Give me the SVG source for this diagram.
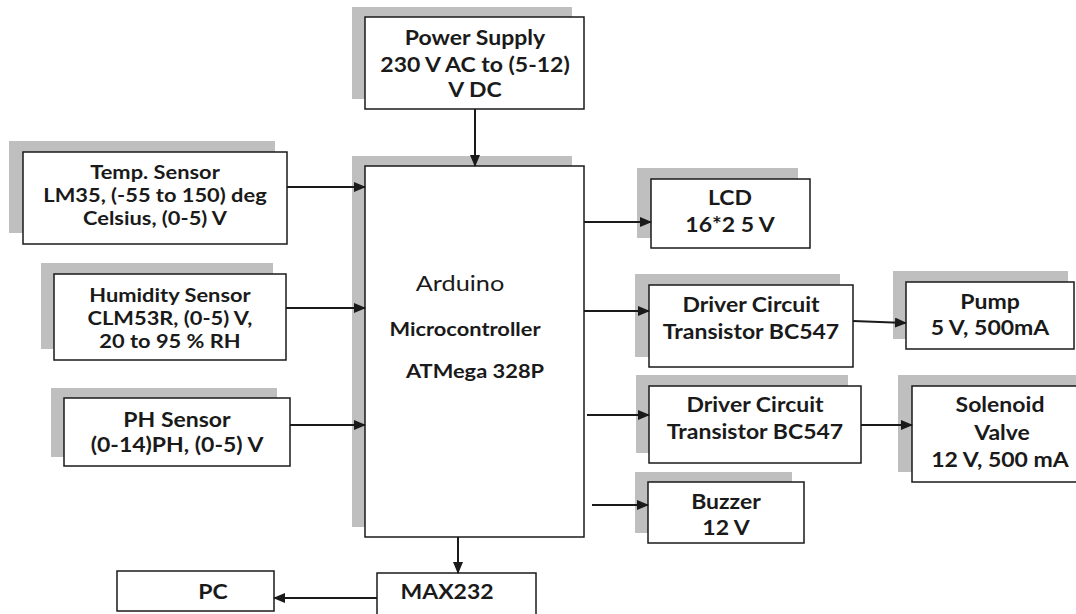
<svg xmlns="http://www.w3.org/2000/svg" width="1076" height="614" viewBox="0 0 1076 614">
<defs>
<marker id="ah" markerWidth="12" markerHeight="10" refX="11" refY="5" orient="auto" markerUnits="userSpaceOnUse">
<path d="M0,0 L12,5 L0,10 z" fill="#1a1a1a"/>
</marker>
<style>
.sh{fill:#bfbfbf;stroke:none}
.bx{fill:#fff;stroke:#1a1a1a;stroke-width:1.5}
.t{font-family:Lato,"Open Sans","Liberation Sans",sans-serif;font-weight:bold;font-size:20px;fill:#1a1a1a;text-anchor:middle}
.s{font-size:19px}
.r{font-family:Lato,"Open Sans","Liberation Sans",sans-serif;font-size:22px;fill:#1a1a1a;text-anchor:middle}
.c{stroke:#1a1a1a;stroke-width:2;fill:none;marker-end:url(#ah)}
</style>
</defs>
<rect width="1076" height="614" fill="#fff"/>

<g id="power">
<rect class="sh" x="352" y="7" width="220" height="92"/>
<rect class="bx" x="365" y="17" width="219" height="92"/>
<text class="t" transform="translate(475 0) scale(1.15 1)" x="0" y="45">Power Supply</text>
<text class="t" transform="translate(475 0) scale(1.15 1)" x="0" y="72">230 V AC to (5-12)</text>
<text class="t" transform="translate(475 0) scale(1.15 1)" x="0" y="97">V DC</text>
</g>

<g id="arduino">
<rect class="sh" x="352" y="156" width="220" height="371"/>
<rect class="bx" x="365" y="166" width="219" height="371"/>
<text class="r" transform="translate(460 0) scale(1.15 1)" x="0" y="291">Arduino</text>
<text class="t s" transform="translate(465 0) scale(1.15 1)" x="0" y="336">Microcontroller</text>
<text class="t s" transform="translate(475 0) scale(1.15 1)" x="0" y="378">ATMega 328P</text>
</g>

<g id="temp">
<rect class="sh" x="9" y="141" width="266" height="92"/>
<rect class="bx" x="23" y="152" width="264" height="92"/>
<text class="t s" transform="translate(155 0) scale(1.15 1)" x="0" y="179">Temp. Sensor</text>
<text class="t s" transform="translate(155 0) scale(1.15 1)" x="0" y="202">LM35, (-55 to 150) deg</text>
<text class="t s" transform="translate(155 0) scale(1.15 1)" x="0" y="225">Celsius, (0-5) V</text>
</g>

<g id="humidity">
<rect class="sh" x="41" y="263" width="232" height="86"/>
<rect class="bx" x="54" y="274" width="232" height="86"/>
<text class="t s" transform="translate(170 0) scale(1.15 1)" x="0" y="302">Humidity Sensor</text>
<text class="t s" transform="translate(170 0) scale(1.15 1)" x="0" y="325">CLM53R, (0-5) V,</text>
<text class="t s" transform="translate(170 0) scale(1.15 1)" x="0" y="348">20 to 95 % RH</text>
</g>

<g id="ph">
<rect class="sh" x="51" y="388" width="226" height="69"/>
<rect class="bx" x="64" y="398" width="226" height="68"/>
<text class="t" transform="translate(177 0) scale(1.15 1)" x="0" y="427">PH Sensor</text>
<text class="t" transform="translate(177 0) scale(1.15 1)" x="0" y="452">(0-14)PH, (0-5) V</text>
</g>

<g id="lcd">
<rect class="sh" x="637" y="168" width="161" height="70"/>
<rect class="bx" x="651" y="179" width="159" height="69"/>
<text class="t" transform="translate(730 0) scale(1.15 1)" x="0" y="205">LCD</text>
<text class="t" transform="translate(730 0) scale(1.15 1)" x="0" y="232">16*2 5 V</text>
</g>

<g id="driver1">
<rect class="sh" x="635" y="274" width="205" height="83"/>
<rect class="bx" x="649" y="285" width="204" height="82"/>
<text class="t" transform="translate(751 0) scale(1.15 1)" x="0" y="312">Driver Circuit</text>
<text class="t" transform="translate(751 0) scale(1.15 1)" x="0" y="339">Transistor BC547</text>
</g>

<g id="driver2">
<rect class="sh" x="636" y="375" width="212" height="78"/>
<rect class="bx" x="649" y="386" width="212" height="77"/>
<text class="t" transform="translate(755 0) scale(1.15 1)" x="0" y="412">Driver Circuit</text>
<text class="t" transform="translate(755 0) scale(1.15 1)" x="0" y="439">Transistor BC547</text>
</g>

<g id="buzzer">
<rect class="sh" x="635" y="472" width="157" height="61"/>
<rect class="bx" x="648" y="482" width="156" height="61"/>
<text class="t" transform="translate(726 0) scale(1.15 1)" x="0" y="509">Buzzer</text>
<text class="t" transform="translate(726 0) scale(1.15 1)" x="0" y="535">12 V</text>
</g>

<g id="pump">
<rect class="sh" x="893" y="271" width="175" height="68"/>
<rect class="bx" x="906" y="282" width="168" height="67"/>
<text class="t" transform="translate(990 0) scale(1.15 1)" x="0" y="309">Pump</text>
<text class="t" transform="translate(990 0) scale(1.15 1)" x="0" y="335">5 V, 500mA</text>
</g>

<g id="solenoid">
<rect class="sh" x="898" y="375" width="180" height="97"/>
<rect class="bx" x="912" y="386" width="170" height="96"/>
<text class="t" transform="translate(1000 0) scale(1.15 1)" x="0" y="412">Solenoid</text>
<text class="t" transform="translate(1002 0) scale(1.15 1)" x="0" y="440">Valve</text>
<text class="t" transform="translate(1000 0) scale(1.15 1)" x="0" y="467">12 V, 500 mA</text>
</g>

<g id="max232">
<rect class="bx" x="377" y="573" width="159" height="50"/>
<text class="t" transform="translate(447 0) scale(1.15 1)" x="0" y="599">MAX232</text>
</g>

<g id="pc">
<rect class="bx" x="117" y="571" width="157" height="40"/>
<text class="t" transform="translate(213 0) scale(1.15 1)" x="0" y="599">PC</text>
</g>

<g id="connectors">
<line class="c" x1="475" y1="109" x2="475" y2="166"/>
<line class="c" x1="287" y1="187" x2="365" y2="187"/>
<line class="c" x1="286" y1="308" x2="365" y2="308"/>
<line class="c" x1="290" y1="425" x2="365" y2="425"/>
<line class="c" x1="584" y1="222" x2="651" y2="222"/>
<line class="c" x1="584" y1="311" x2="649" y2="311"/>
<line class="c" x1="587" y1="415" x2="649" y2="415"/>
<line class="c" x1="592" y1="505" x2="648" y2="505"/>
<line class="c" x1="853" y1="321" x2="906" y2="323"/>
<line class="c" x1="861" y1="425" x2="912" y2="425"/>
<line class="c" x1="458" y1="537" x2="458" y2="573"/>
<line class="c" x1="377" y1="598" x2="274" y2="598"/>
</g>
</svg>
